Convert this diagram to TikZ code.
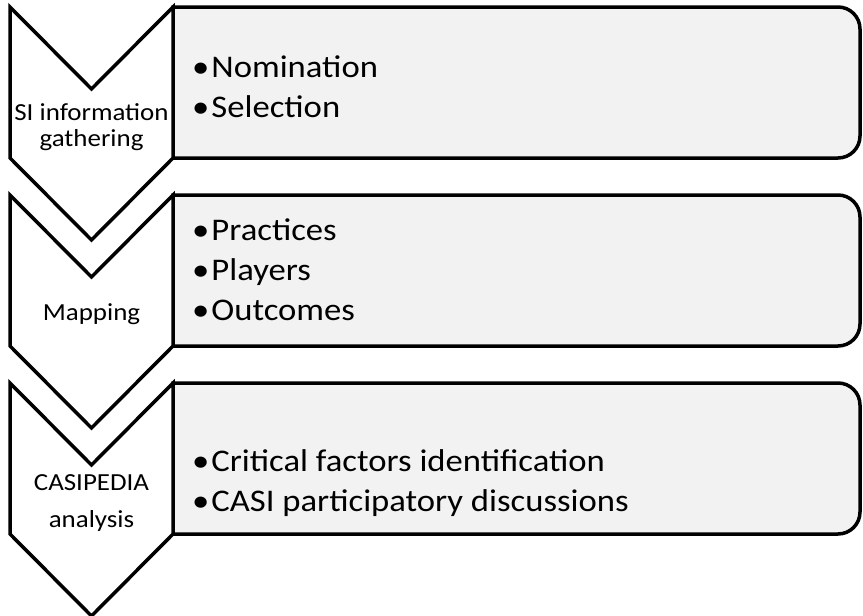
\documentclass[tikz,border=0pt]{standalone}
\usepackage{fontspec}
\setmainfont[FakeStretch=1.1]{Carlito}
\usepackage{tikz}
\usetikzlibrary{positioning}
\definecolor{panelgray}{RGB}{242, 242, 242}

\begin{document}
\begin{tikzpicture}[
    x=1pt, y=-1pt,
    chevron/.style={draw, line width=3.5pt, fill=white, line join=miter, miter limit=10},
    panel/.style={draw, line width=3.5pt, fill=panelgray},
    stage/.style={font=\fontsize{24.5}{26}\selectfont, align=center, inner sep=0pt},
    items/.style={font=\fontsize{31.5}{40}\selectfont, align=left, anchor=west, inner sep=0pt}
]
    \useasboundingbox (0,0) rectangle (863,616);
    % grey panels, right corners rounded
    \foreach \t in {7,195,383} {
        \draw[panel] (173,\t) [rounded corners=22pt] -- (860,\t) -- (860,\t+151) [sharp corners] -- (173,\t+151) -- cycle;
    }
    % chevrons drawn on top of the panels' left edges
    \foreach \t in {7,195,383} {
        \draw[chevron] (10,\t) -- (91.5,\t+82) -- (173,\t) -- (173,\t+151) -- (91.5,\t+233) -- (10,\t+151) -- cycle;
    }
    \node[stage] (gather) at (91.5,127) {SI information\\gathering};
    \node[stage] (mapping) at (91.5,314) {Mapping};
    \node[stage, font=\fontsize{24.5}{37}\selectfont] (analysis) at (91.5,503) {CASIPEDIA\\analysis};

    \node[items] (gatheritems) at (192,87) {\textbullet\kern2pt Nomination\\\textbullet\kern2pt Selection};
    \node[items] (mappingitems) at (192,270) {\textbullet\kern2pt Practices\\\textbullet\kern2pt Players\\\textbullet\kern2pt Outcomes};
    \node[items] (analysisitems) at (192,483) {\textbullet\kern2pt Critical factors identification\\\textbullet\kern2pt CASI participatory discussions};
\end{tikzpicture}
\end{document}
